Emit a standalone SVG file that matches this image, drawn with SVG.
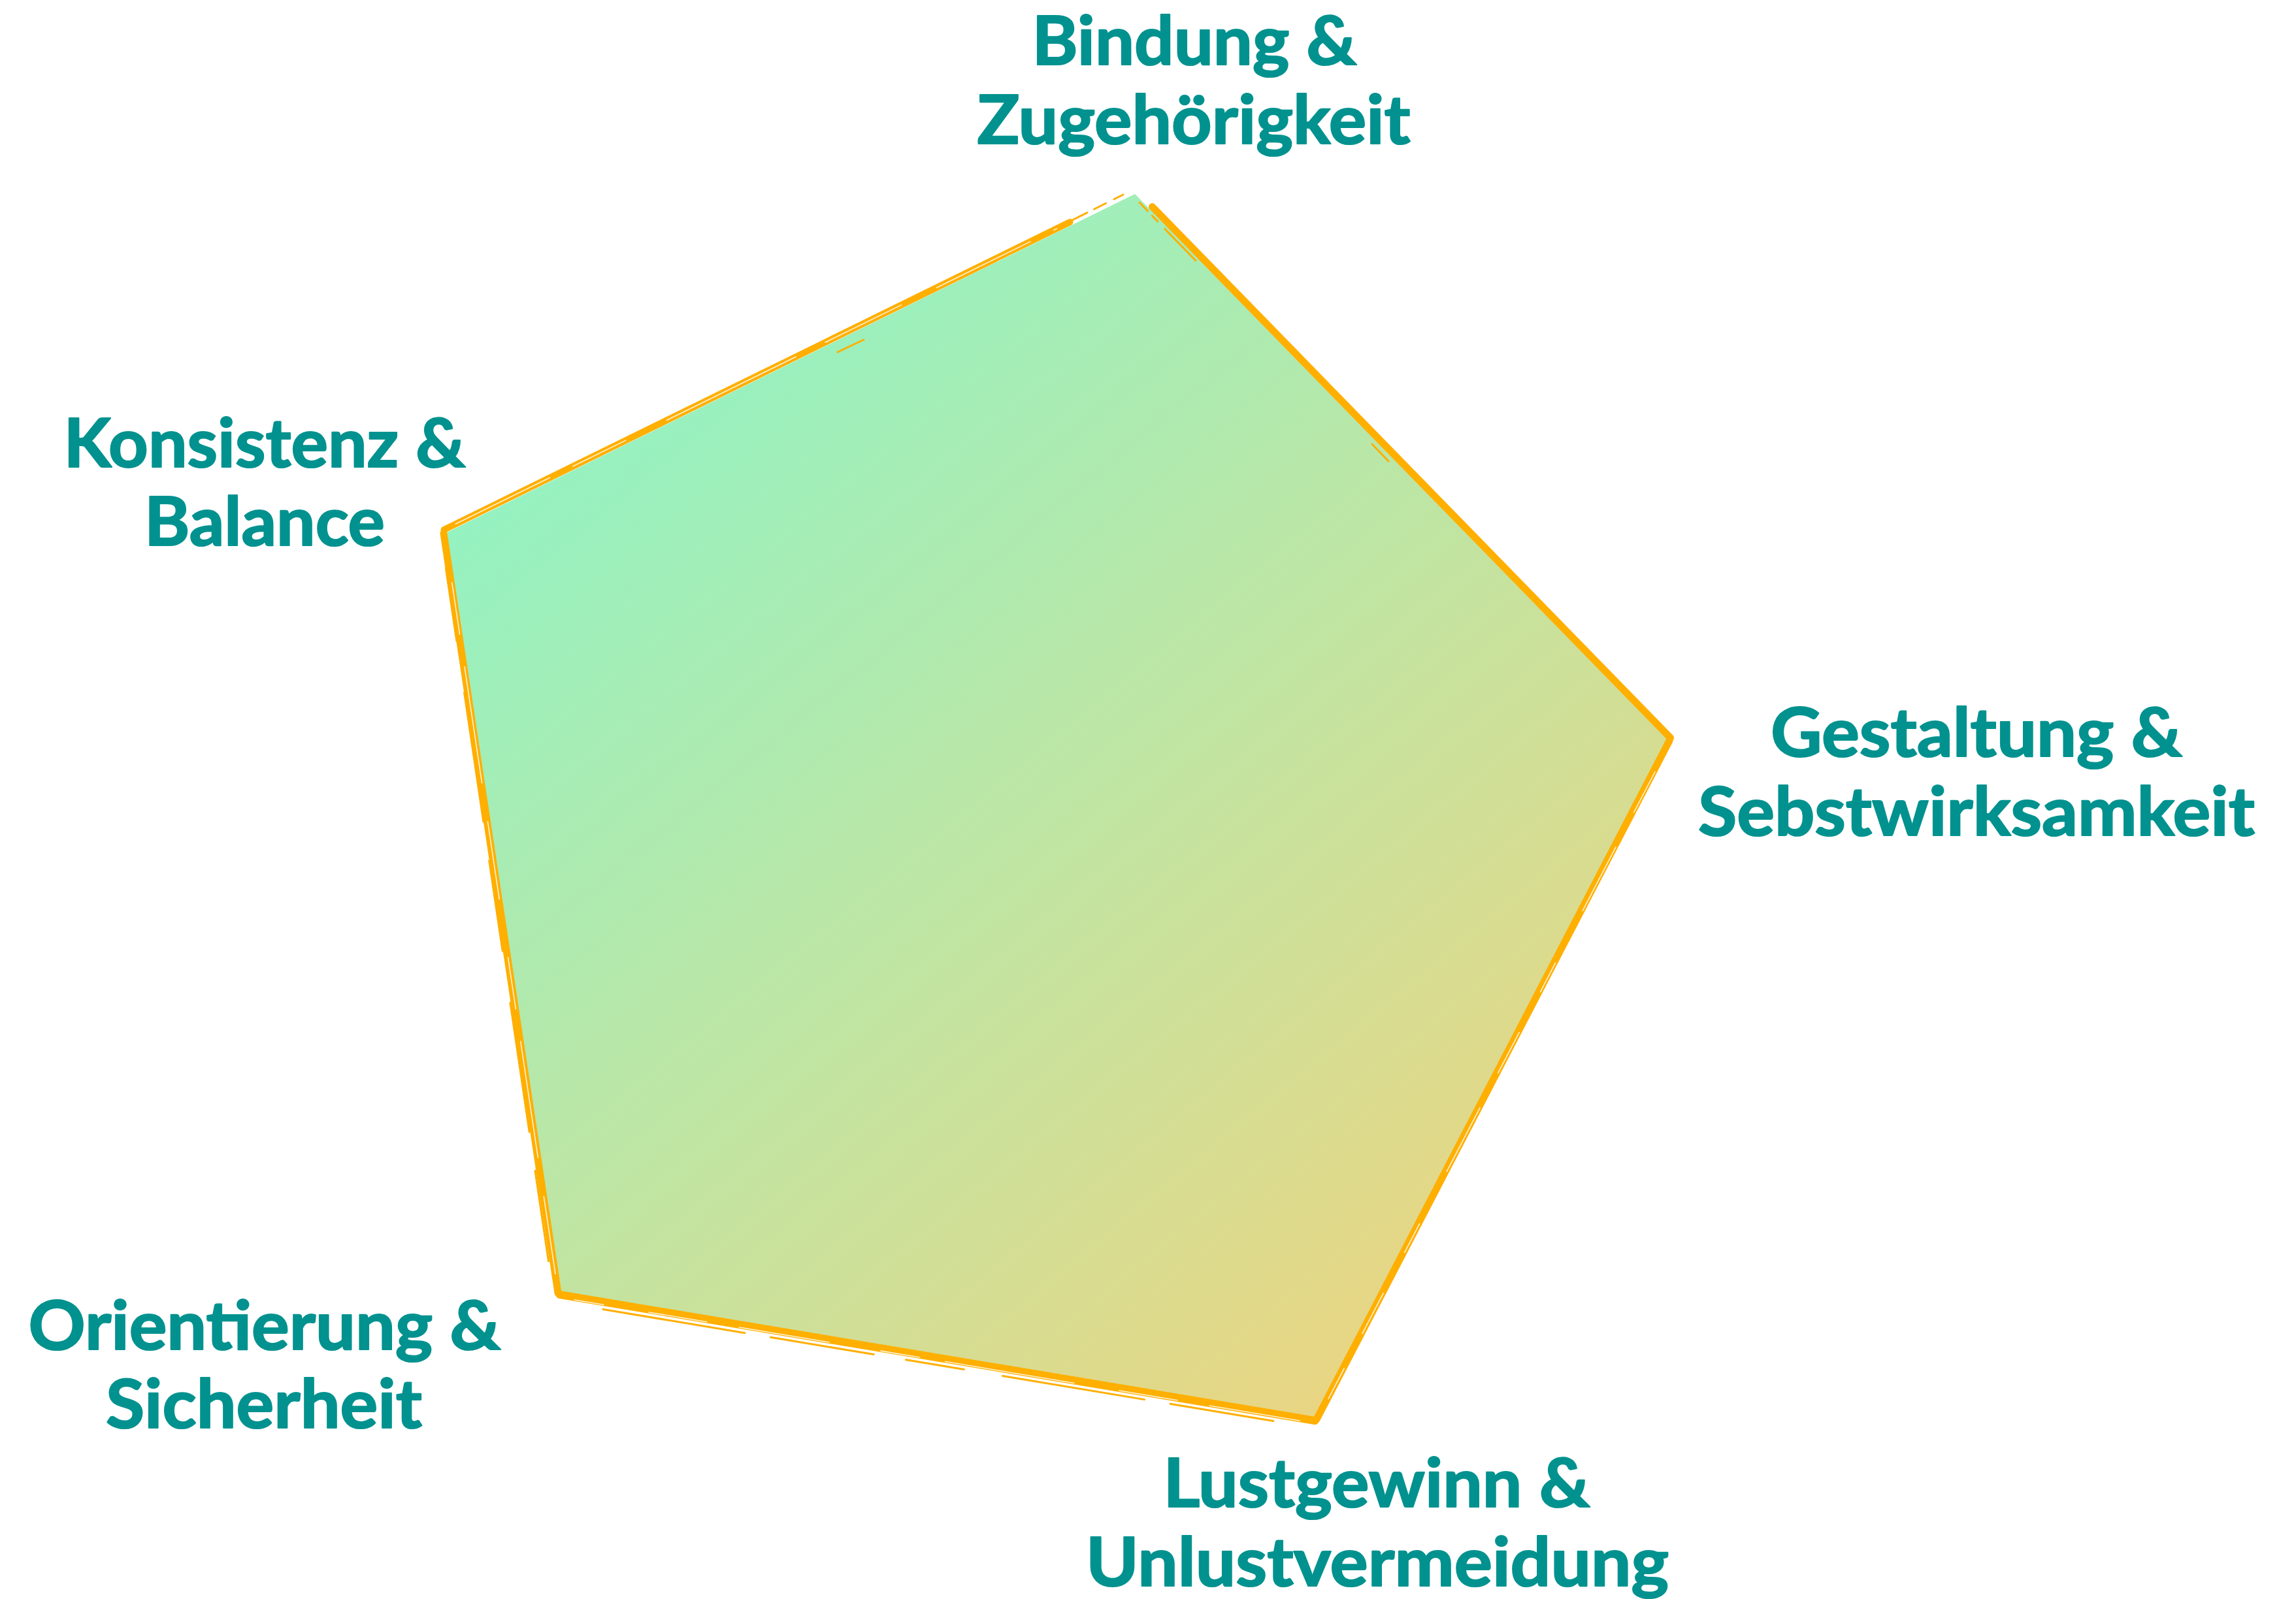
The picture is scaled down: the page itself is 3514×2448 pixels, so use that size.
<svg xmlns="http://www.w3.org/2000/svg" width="3514" height="2448" viewBox="0 0 3514 2448">
<style>
.lbl{font-family:Lato,"Open Sans","Liberation Sans",sans-serif;font-weight:700;font-size:104px;fill:#01928F;stroke:#01928F;stroke-width:2.2;stroke-linejoin:round;text-anchor:middle}
.edge{fill:none;stroke:#FFAF00;stroke-linecap:round;stroke-linejoin:round}
.sk{fill:none;stroke:#FFAF00;stroke-linecap:round;stroke-width:3}
.wh{fill:none;stroke:#FFFFFF;stroke-linecap:round;stroke-width:1.6;opacity:0.85}
</style>
<defs>
<linearGradient id="fillGrad" gradientUnits="userSpaceOnUse" x1="760" y1="560" x2="2150" y2="2240">
<stop offset="0" stop-color="#8EF4C6"/>
<stop offset="0.5" stop-color="#BFE5A3"/>
<stop offset="1" stop-color="#EFD37E"/>
</linearGradient>
</defs>
<rect width="3514" height="2448" fill="#FFFFFF"/>
<g id="radar-shape">
<polygon points="1737,297 2553,1133 2013,2172 857,1979 682,816" fill="url(#fillGrad)"/>
</g>
<g id="connectors">
<!-- E1: L -> T -->
<line class="edge" x1="682" y1="816" x2="1640" y2="345" stroke-width="10" transform="translate(-2.5,-5)"/>
<line class="sk" x1="1640" y1="345" x2="1722" y2="304" stroke-dasharray="30 12 20 14" transform="translate(-3,-6)"/>
<line class="wh" x1="700" y1="807" x2="1620" y2="355" stroke-dasharray="160 40 90 70 220 50 130 60" transform="translate(-2.5,-5)"/>
<line class="sk" x1="1280" y1="534" x2="1320" y2="515" stroke-width="2" transform="translate(2,5)"/>
<!-- E2: T -> R -->
<line class="sk" x1="1744" y1="310" x2="1790" y2="358" stroke-dasharray="18 10 12 16"/>
<line class="edge" x1="1760" y1="320" x2="2553" y2="1133" stroke-width="11" transform="translate(3.5,-3.5)"/>
<line class="sk" x1="1790" y1="358" x2="1830" y2="399" stroke-width="2.5"/>
<line class="sk" x1="2100" y1="680" x2="2125" y2="706" stroke-width="2.5"/>
<!-- E3: R -> BR -->
<line class="edge" x1="2553" y1="1133" x2="2013" y2="2172" stroke-width="11" transform="translate(2,1)"/>
<line class="wh" x1="2530" y1="1180" x2="2030" y2="2140" stroke-dasharray="70 60 110 90 50 70" transform="translate(3,1.5)"/>
<!-- E4: BR -> BL -->
<line class="edge" x1="2013" y1="2172" x2="857" y2="1979" stroke-width="12" transform="translate(-0.5,3)"/>
<line class="wh" x1="1990" y1="2170" x2="880" y2="1985" stroke-dasharray="140 50 90 70 200 40 60 80" transform="translate(-0.8,5)"/>
<line class="sk" x1="1950" y1="2168" x2="900" y2="1993" stroke-width="2.5" stroke-dasharray="160 40 220 60 90 50" transform="translate(-1.2,7.5)"/>
<!-- E5: BL -> L -->
<line class="edge" x1="857" y1="1979" x2="682" y2="816" stroke-width="11" transform="translate(-3,0.5)"/>
<line class="wh" x1="852" y1="1950" x2="686" y2="840" stroke-dasharray="120 60 180 50 80 90" transform="translate(-2,0.3)"/>
<line class="sk" x1="845" y1="1930" x2="688" y2="870" stroke-width="2.5" stroke-dasharray="140 60 200 80" transform="translate(-5.5,0.8)"/>
</g>
<g id="label-bindung">
<text class="lbl" x="1828" y="99" textLength="497" lengthAdjust="spacingAndGlyphs">Bindung &amp;</text>
<text class="lbl" x="1827" y="220" textLength="663" lengthAdjust="spacingAndGlyphs">Zugehörigkeit</text>
</g>
<g id="label-gestaltung">
<text class="lbl" x="3025" y="1158" textLength="630" lengthAdjust="spacingAndGlyphs">Gestaltung &amp;</text>
<text class="lbl" x="3025" y="1279" textLength="852" lengthAdjust="spacingAndGlyphs">Sebstwirksamkeit</text>
</g>
<g id="label-lustgewinn">
<text class="lbl" x="2107" y="2307" textLength="653" lengthAdjust="spacingAndGlyphs">Lustgewinn &amp;</text>
<text class="lbl" x="2108" y="2428" textLength="892" lengthAdjust="spacingAndGlyphs">Unlustvermeidung</text>
</g>
<g id="label-orientierung">
<text class="lbl" x="405" y="2066" textLength="723" lengthAdjust="spacingAndGlyphs">Orientierung &amp;</text>
<text class="lbl" x="404" y="2186" textLength="484" lengthAdjust="spacingAndGlyphs">Sicherheit</text>
</g>
<g id="label-konsistenz">
<text class="lbl" x="405" y="715" textLength="615" lengthAdjust="spacingAndGlyphs">Konsistenz &amp;</text>
<text class="lbl" x="405" y="835" textLength="368" lengthAdjust="spacingAndGlyphs">Balance</text>
</g>
</svg>
